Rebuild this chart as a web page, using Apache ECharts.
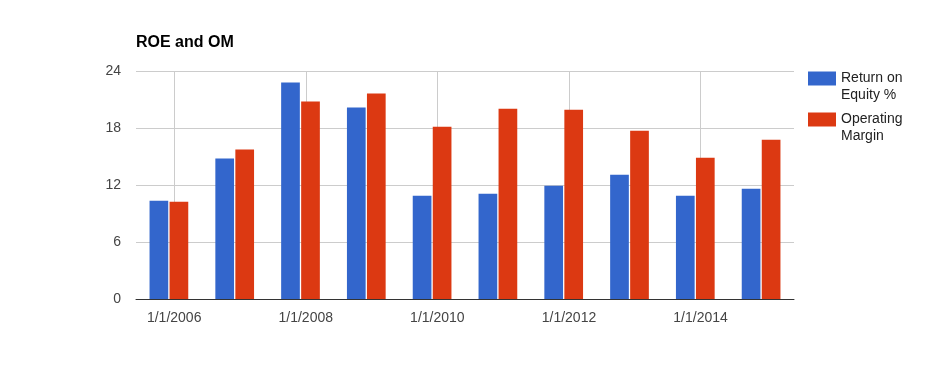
<!DOCTYPE html>
<html>
<head>
<meta charset="utf-8">
<script src="https://cdn.jsdelivr.net/npm/echarts@6/dist/echarts.min.js"></script>
<style>
html,body{margin:0;padding:0;background:#fff;}
#chart{width:929px;height:371px;}
</style>
</head>
<body>
<div id="chart"></div>
<script>
var categories = ['2006','2007','2008','2009','2010','2011','2012','2013','2014','2015'];
var roe = [10.34, 14.78, 22.80, 20.16, 10.86, 11.07, 11.91, 13.07, 10.86, 11.60];
var om = [10.24, 15.73, 20.80, 21.64, 18.13, 20.03, 19.92, 17.71, 14.86, 16.76];
var tickYears = [2006, 2008, 2010, 2012, 2014];
var tickLabels = ['1/1/2006', '1/1/2008', '1/1/2010', '1/1/2012', '1/1/2014'];
var seriesNames = ['Return on\nEquity %', 'Operating\nMargin'];

var FONT = "'Liberation Sans', Arial, sans-serif";
var chart = echarts.init(document.getElementById('chart'), null, {renderer: 'canvas'});
chart.setOption({
  animation: false,
  title: {
    text: 'ROE and OM',
    left: 131, top: 30,
    textStyle: {fontFamily: FONT, fontSize: 16, fontWeight: 'bold', color: '#000'}
  },
  legend: {
    orient: 'vertical',
    left: 803, top: 48,
    padding: 5,
    itemWidth: 28, itemHeight: 14,
    itemGap: -10,
    icon: 'rect',
    data: seriesNames,
    formatter: function (name) { return '\n' + name; },
    textStyle: {fontFamily: FONT, fontSize: 14, color: '#222', lineHeight: 17}
  },
  grid: {left: 136, right: 135, top: 71, height: 228, containLabel: false},
  xAxis: [{
    type: 'category',
    data: categories,
    boundaryGap: true,
    axisLine: {show: true, lineStyle: {color: '#333', width: 1}},
    axisTick: {show: false},
    axisLabel: {show: false},
    splitLine: {show: false},
    z: 5
  }, {
    type: 'value',
    min: 2005.42, max: 2015.42,
    position: 'bottom',
    axisLine: {show: false},
    axisTick: {show: false, customValues: tickYears},
    axisLabel: {
      show: true, customValues: tickYears, margin: 12,
      fontFamily: FONT, fontSize: 14, color: '#444',
      formatter: function (v) { var i = tickYears.indexOf(v); return i >= 0 ? tickLabels[i] : ''; }
    },
    splitLine: {show: true, lineStyle: {color: '#cccccc', width: 1}}
  }],
  yAxis: {
    type: 'value',
    min: 0, max: 24, interval: 6,
    axisLine: {show: false},
    axisTick: {show: false},
    axisLabel: {margin: 15, fontFamily: FONT, fontSize: 14, color: '#444'},
    splitLine: {lineStyle: {color: '#cccccc', width: 1}}
  },
  series: [{
    name: seriesNames[0], type: 'bar', data: roe, xAxisIndex: 0,
    barWidth: 18.7, barGap: '7%',
    itemStyle: {color: '#3366CC'}
  }, {
    name: seriesNames[1], type: 'bar', data: om, xAxisIndex: 0,
    barWidth: 18.7, barGap: '7%',
    itemStyle: {color: '#DC3912'}
  }]
});
</script>
</body>
</html>
